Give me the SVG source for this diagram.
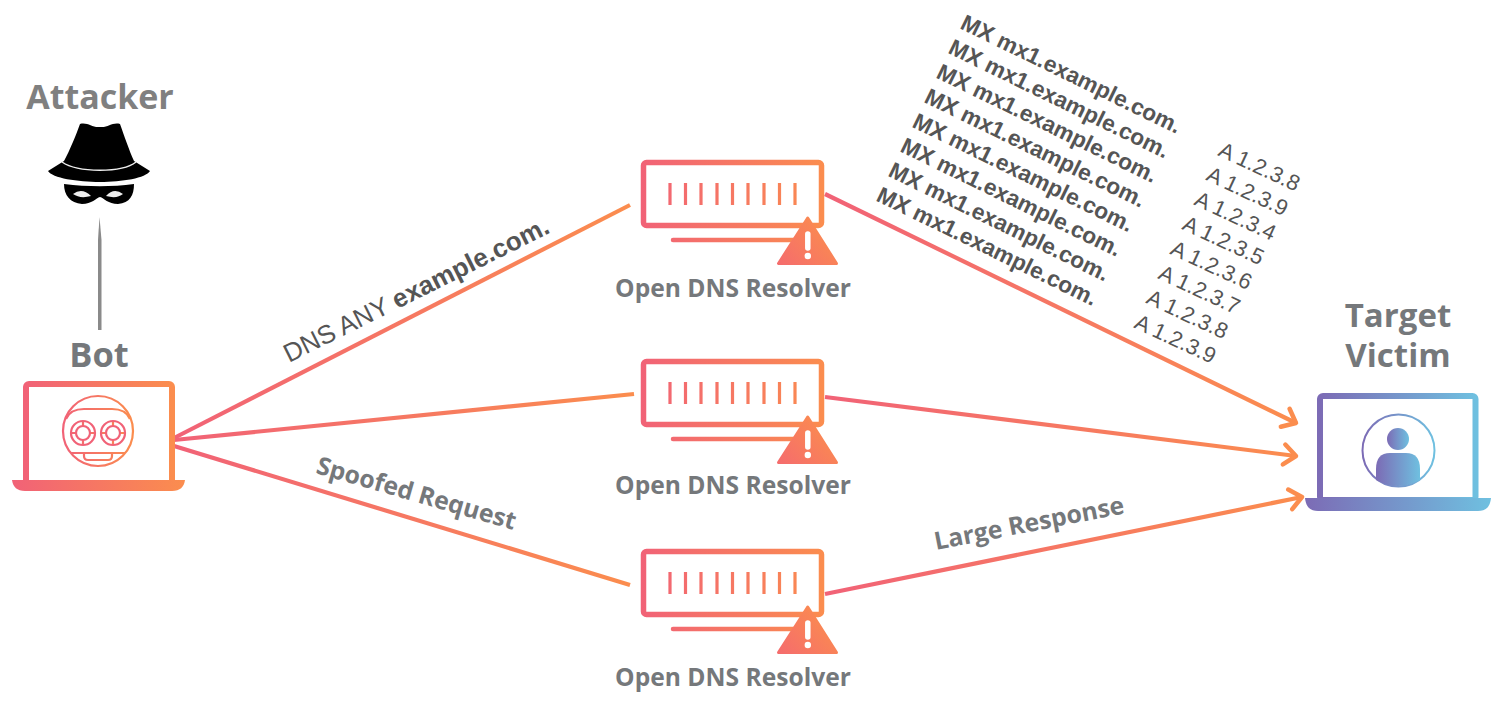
<svg xmlns="http://www.w3.org/2000/svg" width="1500" height="701" viewBox="0 0 1500 701">
<defs>
<linearGradient id="w" x1="0" y1="0" x2="1" y2="0"><stop offset="0" stop-color="#f16277"/><stop offset="1" stop-color="#fb8d4e"/></linearGradient>
<linearGradient id="rb" gradientUnits="userSpaceOnUse" x1="63" y1="0" x2="133" y2="0"><stop offset="0" stop-color="#f16277"/><stop offset="1" stop-color="#fb8d4e"/></linearGradient>
<linearGradient id="tk" gradientUnits="userSpaceOnUse" x1="641" y1="0" x2="824" y2="0"><stop offset="0" stop-color="#f16277"/><stop offset="1" stop-color="#fb8d4e"/></linearGradient>
<linearGradient id="wd" gradientUnits="userSpaceOnUse" x1="785" y1="268" x2="830" y2="225"><stop offset="0" stop-color="#f56d6c"/><stop offset="1" stop-color="#fb8d4e"/></linearGradient>
<linearGradient id="c" x1="0" y1="0" x2="1" y2="0"><stop offset="0" stop-color="#7c6bb5"/><stop offset="1" stop-color="#6fc0e0"/></linearGradient>
<marker id="arr" markerUnits="userSpaceOnUse" markerWidth="28" markerHeight="28" refX="20" refY="14" orient="auto"><path d="M8 4L20 14L8 24" fill="none" stroke="#fb8d4e" stroke-width="4.500" stroke-linecap="round" stroke-linejoin="round"/></marker>
<g id="eye"><circle r="12" fill="none" stroke="url(#rb)" stroke-width="2.200"/><circle r="7" fill="none" stroke="url(#rb)" stroke-width="2.200"/></g>
<g id="resolver">
<rect x="643.500" y="162.500" width="178" height="63" rx="3" fill="#fff" stroke="url(#tk)" stroke-width="5.500"/>
<path d="M670 183v22M685.500 183v22M701 183v22M717 183v22M732.500 183v22M748 183v22M764 183v22M779.500 183v22M795 183v22" stroke="url(#tk)" stroke-width="3.200" fill="none"/>
<path d="M673 240H800" stroke="url(#tk)" stroke-width="4.500" stroke-linecap="round" fill="none"/>
<path d="M807.700 218L778.500 263.500H836.500Z" fill="url(#wd)" stroke="url(#wd)" stroke-width="3" stroke-linejoin="round"/>
<path d="M807.800 234v14" stroke="#fff" stroke-width="5.500" stroke-linecap="round" fill="none"/>
<circle cx="807.800" cy="256" r="3.200" fill="#fff"/>
</g>
</defs>
<style>
.lb{font-family:"Open Sans","Noto Sans",sans-serif;font-weight:700;fill:#75787b}
.t{font-family:"Liberation Sans",Arial,sans-serif;fill:#555;font-size:22px}
.tb{font-family:"Liberation Sans",Arial,sans-serif;font-weight:700;fill:#555;font-size:22.700px}
.ln{fill:none;stroke-width:4.200;stroke:url(#w)}
</style>
<g id="connectors">
<path d="M99.500 217L101.500 240V330H98V240Z" fill="#8a8a8a"/>
<path class="ln" d="M174 438L630 205"/>
<path class="ln" d="M174 440L634 394"/>
<path class="ln" d="M174 446L630 585"/>
<path class="ln" d="M825 194L1296 423" marker-end="url(#arr)"/>
<path class="ln" d="M825 397L1296 456" marker-end="url(#arr)"/>
<path class="ln" d="M825 594L1302 497" marker-end="url(#arr)"/>
</g>
<g id="attacker">
<text class="lb" x="100" y="109" text-anchor="middle" font-size="34" style="fill:#808080">Attacker</text>
<path d="M80 124C88 122 92 128 100 127C108 128 112 122 120 124C124 135 129 150 134 161L150 171C146 178 122 182 100 182C78 182 52 178 48 171L64 161C70 150 76 135 80 124Z" fill="#000"/>
<path d="M62 162C78 173 122 173 136 162" fill="none" stroke="#eee" stroke-width="1.500"/>
<path d="M64 184C88 187 112 187 134 184C134 195 130 203 118 204C108 204 104 198 100 197C96 198 92 204 82 204C70 203 64 195 64 184Z" fill="#000"/>
<path d="M73 194Q82 187 91 196Q80 199 73 194ZM123 194Q114 187 106 196Q117 199 123 194Z" fill="#eee"/>
</g>
<g id="bot">
<text class="lb" x="99" y="367" text-anchor="middle" font-size="34.500">Bot</text>
<rect x="26" y="384" width="146" height="103" rx="3" fill="#fff" stroke="url(#w)" stroke-width="6"/>
<path d="M12 480H185C184 487 180 491 172 491H25C17 491 13 487 12 480Z" fill="url(#w)"/>
<g fill="none" stroke="url(#rb)" stroke-width="2.200">
<circle cx="98" cy="431" r="35"/>
<path d="M66 419C69 412 76 409 84 409H112C120 409 127 412 130 419"/>
<path d="M71 453H125M84 453V456Q84 460 88 460H108Q112 460 112 456V453"/>
<path d="M83 421V426M83 440V445M71 433H76M90 433H95M113 421V426M113 440V445M101 433H106M120 433H125"/>
</g>
<use href="#eye" x="83" y="433"/>
<use href="#eye" x="113" y="433"/>
</g>
<g id="resolver1"><use href="#resolver"/><text class="lb" x="733" y="297" text-anchor="middle" font-size="24.600">Open DNS Resolver</text></g>
<g id="resolver2"><use href="#resolver" y="199"/><text class="lb" x="733" y="494" text-anchor="middle" font-size="24.600">Open DNS Resolver</text></g>
<g id="resolver3"><use href="#resolver" y="389"/><text class="lb" x="733" y="686" text-anchor="middle" font-size="24.600">Open DNS Resolver</text></g>
<g id="victim">
<text class="lb" x="1398" y="327" text-anchor="middle" font-size="33">Target</text>
<text class="lb" x="1398" y="367" text-anchor="middle" font-size="33">Victim</text>
<rect x="1320" y="396" width="155.500" height="104" rx="3" fill="#fff" stroke="url(#c)" stroke-width="6"/>
<path d="M1305 498H1491C1490 507 1486 511 1478 511H1318C1310 511 1306 507 1305 498Z" fill="url(#c)"/>
<circle cx="1398.500" cy="450.500" r="36" fill="none" stroke="url(#c)" stroke-width="2"/>
<circle cx="1398" cy="439" r="11" fill="url(#c)"/>
<path d="M1376 480V469Q1376 453 1390 453H1406Q1420 453 1420 469V480Q1398 492 1376 480Z" fill="url(#c)"/>
</g>
<g id="labels">
<text class="t" transform="translate(289 363) rotate(-26.500)" style="font-size:26px">DNS ANY <tspan font-weight="700">example.com.</tspan></text>
<text class="lb" transform="translate(315 473) rotate(16)" font-size="24.700">Spoofed Request</text>
<text class="lb" transform="translate(936 550) rotate(-11)" font-size="24.800">Large Response</text>
<g id="mx">
<text class="tb" transform="translate(959 28) rotate(26)">MX mx1.example.com.</text>
<text class="tb" transform="translate(947 52.600) rotate(26)">MX mx1.example.com.</text>
<text class="tb" transform="translate(935 77.200) rotate(26)">MX mx1.example.com.</text>
<text class="tb" transform="translate(923 101.800) rotate(26)">MX mx1.example.com.</text>
<text class="tb" transform="translate(911 126.400) rotate(26)">MX mx1.example.com.</text>
<text class="tb" transform="translate(899 151) rotate(26)">MX mx1.example.com.</text>
<text class="tb" transform="translate(887 175.600) rotate(26)">MX mx1.example.com.</text>
<text class="tb" transform="translate(875 200.200) rotate(26)">MX mx1.example.com.</text>
</g>
<g id="a">
<text class="t" transform="translate(1217 155) rotate(25)">A 1.2.3.8</text>
<text class="t" transform="translate(1205 179.600) rotate(25)">A 1.2.3.9</text>
<text class="t" transform="translate(1193 204.200) rotate(25)">A 1.2.3.4</text>
<text class="t" transform="translate(1181 228.800) rotate(25)">A 1.2.3.5</text>
<text class="t" transform="translate(1169 253.400) rotate(25)">A 1.2.3.6</text>
<text class="t" transform="translate(1157 278) rotate(25)">A 1.2.3.7</text>
<text class="t" transform="translate(1145 302.600) rotate(25)">A 1.2.3.8</text>
<text class="t" transform="translate(1133 327.200) rotate(25)">A 1.2.3.9</text>
</g>
</g>
</svg>
